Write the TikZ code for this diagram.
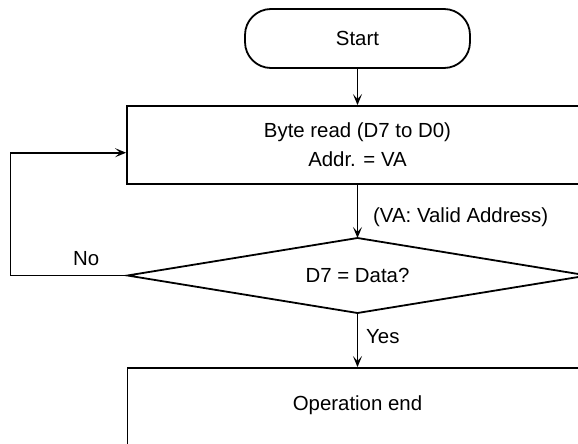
\documentclass[tikz,border=0pt]{standalone}
\usepackage{fontspec}
\setmainfont{Liberation Sans}
\usetikzlibrary{arrows.meta}
\begin{document}
\begin{tikzpicture}[x=1pt,y=-1pt,
  every node/.style={font=\fontsize{20.4}{29}\selectfont},
  ln/.style={line width=1.8pt},
  arr/.style={ln,-{Stealth[length=11pt,width=9pt,inset=5pt]}},
  box/.style={ln,draw,rectangle,inner sep=0pt,align=center},
  term/.style={ln,draw,rectangle,rounded corners=26pt,inner sep=0pt},
  lbl/.style={inner sep=0pt,anchor=base west}]
\useasboundingbox (0,0) rectangle (578,444);
\clip (0,0) rectangle (578,444);
\node[term,minimum width=225pt,minimum height=59pt] (start) at (357.5,38.5) {Start};
\node[box,minimum width=461pt,minimum height=78pt] (read) at (357.5,145) {Byte read (D7 to D0)\\Addr. = VA};
\coordinate (dtop) at (357.5,238);
\coordinate (dleft) at (127.5,275.5);
\coordinate (dbot) at (357.5,313);
\coordinate (dright) at (587.5,275.5);
\draw[ln,line join=miter] (dtop) -- (dright) -- (dbot) -- (dleft) -- cycle;
\node (dec) at (357.5,275.5) {D7 = Data?};
\node[box,minimum width=460pt,minimum height=130pt] (end) at (357.5,433) {};
\node (endtxt) at (357.5,405) {Operation end};
\draw[arr] (start.south) -- (read.north);
\draw[arr] (read.south) -- (dtop);
\draw[arr] (dbot) -- (end.north);
\draw[arr] (dleft) -- ++(-117,0) |- ([yshift=-7.7pt]read.west);
\node[lbl] (va) at (373,222) {(VA: Valid Address)};
\node[lbl] (no) at (73,265) {No};
\node[lbl] (yes) at (366,343) {Yes};
\end{tikzpicture}
\end{document}
